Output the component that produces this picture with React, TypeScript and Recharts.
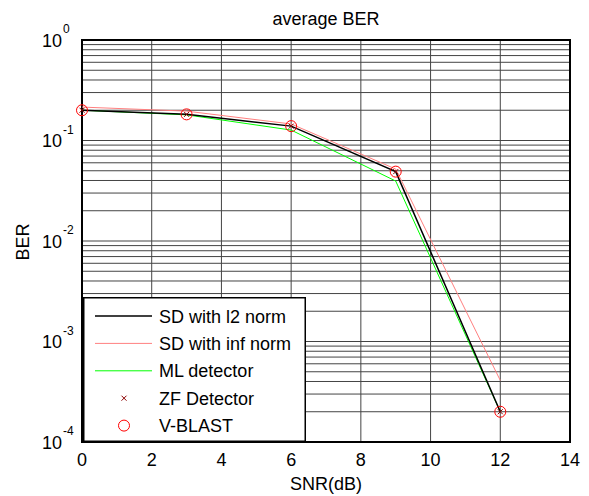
import React from 'react';
import {
  ComposedChart,
  Line,
  XAxis,
  YAxis,
  CartesianGrid,
  ReferenceArea,
  Legend
} from 'recharts';

// SNR points (dB) and average BER per detector
const snrDb = [0, 3, 6, 9, 12];
const sdL2Ber = [0.2, 0.182, 0.139, 0.049, 0.0002];
const sdInfBer = [0.215, 0.196, 0.146, 0.052, 0.00041];
const mlBer = [0.2, 0.18, 0.127, 0.0395, 0.0002];
const zfBer = [0.2, 0.182, 0.139, 0.049, 0.0002];
const vblastBer = [0.2, 0.182, 0.139, 0.049, 0.0002];

const xTicks = [0, 2, 4, 6, 8, 10, 12, 14];
const decades = [1e-4, 1e-3, 1e-2, 1e-1];
const mantissas = [1, 2, 3, 4, 5, 6, 7, 8, 9];
const yTicks = [...decades.flatMap((d) => mantissas.map((m) => m * d)), 1];

const legendLabels = ['SD with l2 norm', 'SD with inf norm', 'ML detector', 'ZF Detector', 'V-BLAST'];

const FONT = '"Liberation Sans", Arial, sans-serif';
const W = 589;
const H = 496;

const data = snrDb.map((s, i) => ({
  snr: s,
  sdL2: sdL2Ber[i],
  sdInf: sdInfBer[i],
  ml: mlBer[i],
  zf: zfBer[i],
  vblast: vblastBer[i]
}));

const isDecade = (v: number) => {
  const l = Math.log10(v);
  return Math.abs(l - Math.round(l)) < 1e-9;
};

const YTick = (props: any) => {
  const { x, y, payload } = props;
  const v = payload.value;
  if (!isDecade(v)) return <g />;
  const exp = Math.round(Math.log10(v));
  return (
    <g fontFamily={FONT} fill="#000">
      <text x={x - 40} y={y + 6.5} fontSize={18} textAnchor="start">10</text>
      <text x={x - 19} y={y - 7} fontSize={12} textAnchor="start">{String(exp)}</text>
    </g>
  );
};

const XTick = (props: any) => {
  const { x, y, payload } = props;
  return (
    <text x={x} y={y + 24} fontSize={18} fontFamily={FONT} textAnchor="middle" fill="#000">
      {payload.value}
    </text>
  );
};

const YTitle = () => (
  <text
    x={29}
    y={242}
    transform="rotate(-90, 29, 242)"
    fontSize={18}
    fontFamily={FONT}
    textAnchor="middle"
    fill="#000"
  >
    BER
  </text>
);

const ZfDot = (p: any) => {
  const { cx, cy, key } = p;
  if (cx == null || cy == null) return <g key={key} />;
  const s = 2.5;
  return (
    <path
      key={key}
      d={`M${cx - s},${cy - s}L${cx + s},${cy + s}M${cx - s},${cy + s}L${cx + s},${cy - s}`}
      stroke="#8b0000"
      strokeWidth={1}
      fill="none"
    />
  );
};

const CircleDot = (p: any) => {
  const { cx, cy, key } = p;
  if (cx == null || cy == null) return <g key={key} />;
  return <circle key={key} cx={cx} cy={cy} r={5.5} stroke="#ff0000" strokeWidth={1} fill="none" />;
};

const LegendBox = () => {
  const rowY = (i: number) => 19 + i * 27.4;
  return (
    <svg width={223} height={145} style={{ display: 'block' }}>
      <rect x={0.75} y={0.75} width={221.5} height={143.5} fill="#fff" stroke="#000" strokeWidth={1.5} />
      <line x1={12} x2={69} y1={rowY(0)} y2={rowY(0)} stroke="#000" strokeWidth={1.5} />
      <line x1={12} x2={69} y1={rowY(1)} y2={rowY(1)} stroke="#ff8080" strokeWidth={1} />
      <line x1={12} x2={69} y1={rowY(2)} y2={rowY(2)} stroke="#00ff00" strokeWidth={1} />
      <ZfDot cx={41} cy={rowY(3)} key="zf" />
      <CircleDot cx={41} cy={rowY(4)} key="vb" />
      {legendLabels.map((t, i) => (
        <text key={t} x={76} y={rowY(i) + 6.5} fontSize={18} fontFamily={FONT} fill="#000">
          {t}
        </text>
      ))}
    </svg>
  );
};

export default function App() {
  return (
    <div style={{ position: 'absolute', left: 0, top: 0, width: W, height: H, background: '#fff' }}>
      <ComposedChart
        width={W}
        height={H}
        data={data}
        margin={{ top: 40, right: 19, left: 0, bottom: 0 }}
        style={{ fontFamily: FONT }}
      >
        <CartesianGrid stroke="#444" strokeWidth={1} horizontalValues={yTicks} verticalValues={xTicks} />
        <XAxis
          dataKey="snr"
          type="number"
          domain={[0, 14]}
          ticks={xTicks}
          height={54}
          tickSize={0}
          tickMargin={0}
          axisLine={false}
          tick={<XTick />}
          interval={0}
          label={{ value: 'SNR(dB)', position: 'insideBottom', offset: 6, fill: '#000', fontSize: 18 }}
        />
        <YAxis
          type="number"
          scale="log"
          domain={[1e-4, 1]}
          allowDataOverflow
          ticks={yTicks}
          width={82}
          tickSize={0}
          tickMargin={0}
          axisLine={false}
          tick={<YTick />}
          interval={0}
          label={<YTitle />}
        />
        <ReferenceArea
          x1={0}
          x2={14}
          y1={1e-4}
          y2={1}
          fill="none"
          stroke="#000"
          strokeWidth={2}
          label={{ value: 'average BER', position: 'top', offset: 15, fill: '#000', fontSize: 18 }}
        />
        <Line dataKey="sdInf" stroke="#ff8080" strokeWidth={1} dot={false} activeDot={false} isAnimationActive={false} />
        <Line dataKey="ml" stroke="#00ff00" strokeWidth={1} dot={false} activeDot={false} isAnimationActive={false} />
        <Line dataKey="sdL2" stroke="#000" strokeWidth={1.5} dot={false} activeDot={false} isAnimationActive={false} />
        <Line dataKey="zf" stroke="none" dot={ZfDot} activeDot={false} isAnimationActive={false} />
        <Line dataKey="vblast" stroke="none" dot={CircleDot} activeDot={false} isAnimationActive={false} />
        <Legend
          layout="vertical"
          align="center"
          verticalAlign="middle"
          content={<LegendBox />}
          wrapperStyle={{ left: 83, top: 297, width: 223, height: 145 }}
        />
      </ComposedChart>
    </div>
  );
}
